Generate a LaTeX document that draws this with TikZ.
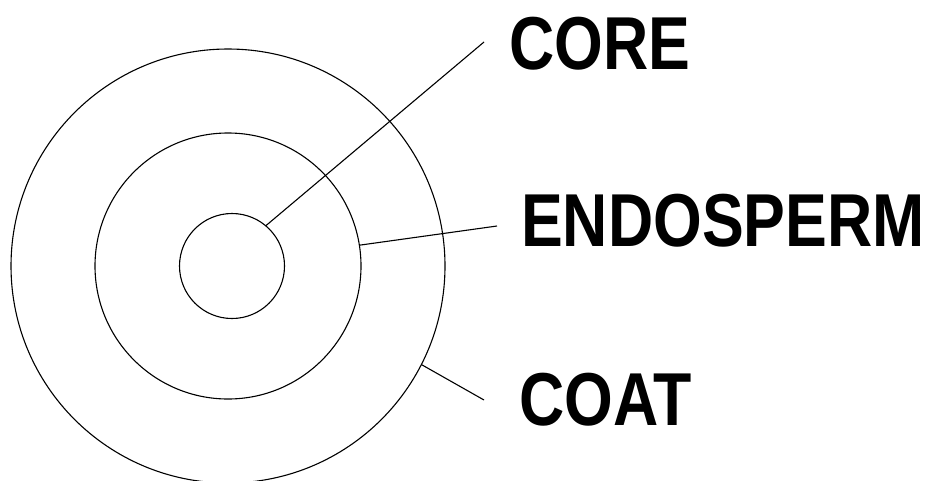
\documentclass[tikz,border=0pt]{standalone}
\usepackage{fontspec}
\usepackage{graphicx}
\setmainfont{Liberation Sans}
\begin{document}
\begin{tikzpicture}[x=1pt,y=-1pt,
  ring/.style={draw, circle, inner sep=0pt, outer sep=0pt, line width=1.1pt},
  lead/.style={line width=1.1pt},
  lbl/.style={anchor=base west, inner sep=0pt, font=\fontsize{75}{75}\selectfont\bfseries}]
\useasboundingbox (0,0) rectangle (928,480);
\node[ring, minimum size=434pt] (outer) at (228,266) {};
\node[ring, minimum size=266pt] (middle) at (228,266) {};
\node[ring, minimum size=105pt] (inner) at (232,266) {};
\node[lbl] (core) at (509,69) {\scalebox{0.835}[1]{CORE}};
\node[lbl] (endo) at (521,246) {\scalebox{0.835}[1]{ENDOSPERM}};
\node[lbl] (coat) at (519,425) {\scalebox{0.835}[1]{COAT}};
\coordinate (coreend) at (484,42);
\coordinate (endoend) at (497,226);
\coordinate (coatend) at (484,400);
\draw[lead] (inner.50) -- (coreend);
\draw[lead] (middle.9.8) -- (endoend);
\draw[lead] (outer.-27.5) -- (coatend);
\end{tikzpicture}
\end{document}
